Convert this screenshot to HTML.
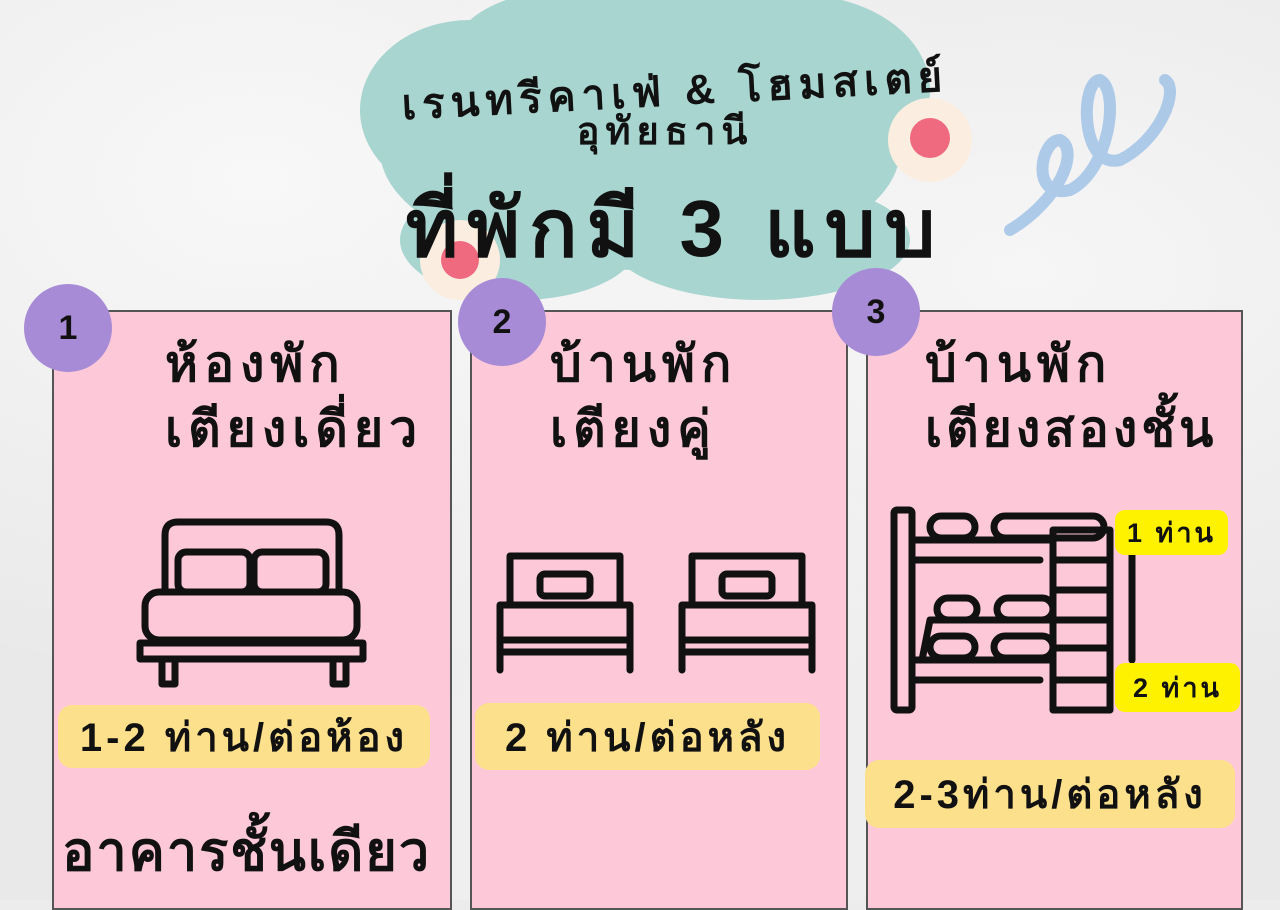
<!DOCTYPE html>
<html><head><meta charset="utf-8"><style>
body{margin:0;width:1280px;height:900px;overflow:hidden;background:#ececec;font-family:"Liberation Sans","DejaVu Sans",sans-serif;position:relative}
.bg{position:absolute;inset:0;background:radial-gradient(ellipse at 20% 20%,#f8f8f8,transparent 50%),radial-gradient(ellipse at 80% 30%,#f6f6f6,transparent 50%),radial-gradient(ellipse at 50% 90%,#f2f2f2,transparent 60%),#e9e9e9}
.card{position:absolute;top:310px;height:600px;background:#fdc8d8;border:2px solid #555;box-sizing:border-box}
.circ{position:absolute;width:88px;height:88px;border-radius:50%;background:#a88bd6;color:#111;font-weight:bold;font-size:34px;display:flex;align-items:center;justify-content:center}
.t{position:absolute;font-weight:bold;color:#111;white-space:nowrap;letter-spacing:6px}
.pill{position:absolute;background:#fde08c;border-radius:14px;font-weight:bold;font-size:40px;letter-spacing:4px;display:flex;align-items:center;justify-content:center;color:#111;white-space:nowrap}
.y{position:absolute;background:#fef200;border-radius:10px;font-weight:bold;font-size:27px;letter-spacing:3px;display:flex;align-items:center;justify-content:center;color:#111}
</style></head><body>
<div class="bg"></div>
<svg style="position:absolute;left:0;top:0" width="1280" height="900">
<g fill="#a8d5cf">
<ellipse cx="640" cy="150" rx="260" ry="120"/>
<ellipse cx="470" cy="110" rx="110" ry="90"/>
<ellipse cx="800" cy="90" rx="130" ry="95"/>
<ellipse cx="640" cy="40" rx="180" ry="60"/>
<ellipse cx="520" cy="240" rx="120" ry="60"/>
<ellipse cx="760" cy="240" rx="150" ry="60"/>
</g>
<g><circle cx="930" cy="140" r="42" fill="#fbeee0"/><circle cx="930" cy="138" r="20" fill="#f06a7f"/>
<circle cx="460" cy="260" r="40" fill="#fbeee0"/><circle cx="460" cy="260" r="19" fill="#f06a7f"/></g>
<path d="M1010 230 C1060 200 1080 150 1060 140 C1040 140 1030 200 1070 190 C1110 170 1120 90 1100 80 C1080 80 1080 170 1120 160 C1160 140 1180 90 1165 80" fill="none" stroke="#9cbfe6" stroke-width="12" stroke-linecap="round" opacity=".8"/>
</svg>
<div class="t" style="left:390px;top:58px;width:570px;text-align:center;font-size:42px;letter-spacing:6px;transform:rotate(-3deg)">เรนทรีคาเฟ่ &amp; โฮมสเตย์</div>
<div class="t" style="left:550px;top:100px;width:230px;text-align:center;font-size:38px">อุทัยธานี</div>
<div class="t" style="left:360px;top:165px;width:630px;text-align:center;font-size:80px;letter-spacing:9px">ที่พักมี 3 แบบ</div>

<div class="card" style="left:52px;width:400px"></div>
<div class="card" style="left:470px;width:378px"></div>
<div class="card" style="left:866px;width:377px"></div>
<div class="circ" style="left:24px;top:284px">1</div>
<div class="circ" style="left:458px;top:278px">2</div>
<div class="circ" style="left:832px;top:268px">3</div>

<div class="t" style="left:165px;top:325px;font-size:50px">ห้องพัก</div>
<div class="t" style="left:165px;top:390px;font-size:50px">เตียงเดี่ยว</div>
<div class="t" style="left:550px;top:325px;font-size:50px">บ้านพัก</div>
<div class="t" style="left:550px;top:390px;font-size:50px">เตียงคู่</div>
<div class="t" style="left:925px;top:325px;font-size:50px">บ้านพัก</div>
<div class="t" style="left:925px;top:390px;font-size:50px;letter-spacing:4px">เตียงสองชั้น</div>

<svg style="position:absolute;left:0;top:0" width="1280" height="900" fill="none" stroke="#111" stroke-width="7" stroke-linejoin="round" stroke-linecap="round">
<path d="M165 590 V535 Q165 522 178 522 H326 Q339 522 339 535 V590"/>
<rect x="178" y="552" width="72" height="40" rx="8"/><rect x="254" y="552" width="72" height="40" rx="8"/>
<rect x="145" y="592" width="212" height="48" rx="14"/>
<rect x="140" y="643" width="223" height="16"/>
<path d="M162 659 V684 H175 V659 M333 659 V684 H346 V659"/>
<path d="M510 605 V556 H620 V605"/><rect x="540" y="574" width="50" height="22" rx="5"/>
<path d="M500 670 V605 H630 V670 M500 640 H630 M500 652 H630"/>
<path d="M692 605 V556 H802 V605"/><rect x="722" y="574" width="50" height="22" rx="5"/>
<path d="M682 670 V605 H812 V670 M682 640 H812 M682 652 H812"/>
<rect x="894" y="510" width="18" height="200" rx="3"/>
<path d="M912 540 H1053 M912 560 H1040 M1053 530 V710 H1110 V530 Z M1053 560 H1110 M1053 590 H1110 M1053 620 H1110 M1053 648 H1110 M1053 680 H1110"/>
<rect x="930" y="516" width="45" height="22" rx="11"/><rect x="994" y="516" width="110" height="22" rx="11"/>
<rect x="937" y="598" width="40" height="22" rx="11"/><rect x="997" y="598" width="56" height="22" rx="11"/>
<rect x="930" y="636" width="45" height="22" rx="11"/><rect x="994" y="636" width="59" height="22" rx="11"/>
<path d="M922 660 L930 620 H1053 M912 660 H1053 M912 680 H1040 M1132 555 V660"/>
</svg>
<div class="y" style="left:1115px;top:510px;width:113px;height:45px">1 ท่าน</div>
<div class="y" style="left:1115px;top:663px;width:125px;height:49px">2 ท่าน</div>

<div class="pill" style="left:58px;top:705px;width:372px;height:63px">1-2 ท่าน/ต่อห้อง</div>
<div class="pill" style="left:475px;top:703px;width:345px;height:67px">2 ท่าน/ต่อหลัง</div>
<div class="pill" style="left:865px;top:760px;width:370px;height:68px">2-3ท่าน/ต่อหลัง</div>
<div class="t" style="left:62px;top:808px;font-size:54px;letter-spacing:2px">อาคารชั้นเดียว</div>
</body></html>
